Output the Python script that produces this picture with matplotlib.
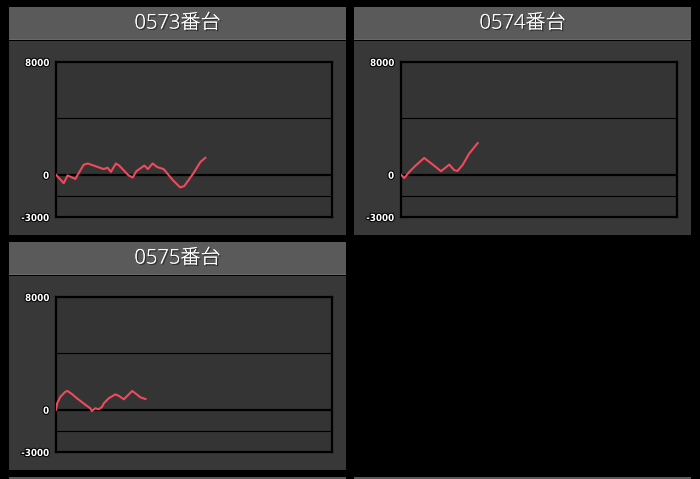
import matplotlib
matplotlib.use('Agg')
import matplotlib.pyplot as plt
from matplotlib.patches import Rectangle
import matplotlib.patheffects as pe

# データ (ゲーム数 / 差枚)
titles = ['0573番台', '0574番台', '0575番台']

games_0573 = [0, 280, 420, 700, 1000, 1150, 1730, 1870, 1990, 2170, 2290, 2630, 2780,
              2910, 3200, 3330, 3500, 3660, 3900, 4240, 4500, 4650, 4960, 5230, 5410]
diff_0573 = [0, -600, -50, -300, 700, 800, 400, 500, 200, 800, 650, -50, -200,
             250, 650, 400, 800, 550, 400, -400, -900, -800, 50, 900, 1200]

games_0574 = [0, 120, 300, 540, 840, 1150, 1450, 1750, 1930, 2050, 2240, 2470, 2780]
diff_0574 = [0, -230, 200, 670, 1190, 720, 250, 720, 320, 270, 720, 1500, 2250]

games_0575 = [0, 40, 160, 340, 420, 580, 760, 1000, 1240, 1300, 1420, 1550, 1670,
              1730, 1910, 2150, 2270, 2460, 2760, 2880, 3060, 3240]
diff_0575 = [0, 450, 920, 1280, 1330, 1110, 810, 450, 100, -90, 100, 30, 210,
             450, 810, 1090, 990, 740, 1330, 1160, 880, 760]

y_ticks = [-3000, 0, 8000]
grid_lines = [4000, -1500]
x_max = 10000

series = [(games_0573, diff_0573), (games_0574, diff_0574), (games_0575, diff_0575)]

W, H = 700, 479
fig = plt.figure(figsize=(W / 100, H / 100), dpi=100, facecolor='black')


def rect(x0, y0, x1, y1):
    # ピクセル座標(左上原点) -> figure座標
    return [x0 / W, 1 - y1 / H, (x1 - x0) / W, (y1 - y0) / H]


def add_box(x0, y0, x1, y1, color):
    l, b, w, h = rect(x0, y0, x1, y1)
    fig.add_artist(Rectangle((l, b), w, h, transform=fig.transFigure,
                             facecolor=color, edgecolor='none', zorder=-10))


# パネル位置 (左, 上)
panels = [(9, 7), (354, 7), (9, 242)]
pw = 337

for (px, py), title, (gx, gy) in zip(panels, titles, series):
    # ヘッダー
    add_box(px, py, px + pw, py + 32.5, '#5a5a5a')
    add_box(px, py + 31.5, px + pw, py + 32.5, '#6a6a6a')
    add_box(px, py + 34, px + pw, py + 228, '#383838')
    fig.text((px + pw / 2) / W, 1 - (py + 16.5) / H, title, ha='center', va='center',
             color='white', fontsize=14.5, fontweight='light',
             family=['Open Sans', 'Noto Sans CJK JP', 'DejaVu Sans'],
             path_effects=[pe.withSimplePatchShadow(offset=(1, -1), shadow_rgbFace='black', alpha=0.5),
                           pe.Normal()])

    ax = fig.add_axes(rect(px + 47, py + 55, px + 323, py + 210))
    ax.set_facecolor('#343434')
    for y in grid_lines:
        ax.axhline(y, color='black', lw=0.8, zorder=1)
    ax.axhline(0, color='black', lw=1.6, zorder=1)
    ax.plot(gx, gy, color='#f04a5c', lw=1.5, zorder=3, solid_joinstyle='round')
    ax.set_xlim(0, x_max)
    ax.set_ylim(-3000, 8000)
    ax.set_xticks([])
    ax.set_yticks(y_ticks)
    ax.set_yticklabels([str(t) for t in y_ticks])
    ax.tick_params(axis='y', length=0, pad=5)
    for lab in ax.get_yticklabels():
        lab.set_color('white')
        lab.set_fontsize(7)
        lab.set_fontweight('bold')
        lab.set_fontstretch('condensed')
        lab.set_family(['DejaVu Sans'])
        lab.set_path_effects([pe.withStroke(linewidth=1.5, foreground='black')])
    for sp in ax.spines.values():
        sp.set_color('black')
        sp.set_linewidth(1.6)

# 下の行のヘッダー(途切れ)
add_box(9, 477, 346, 479, '#5a5a5a')
add_box(354, 477, 691, 479, '#5a5a5a')

fig.savefig('out.png', dpi=100, facecolor='black')
